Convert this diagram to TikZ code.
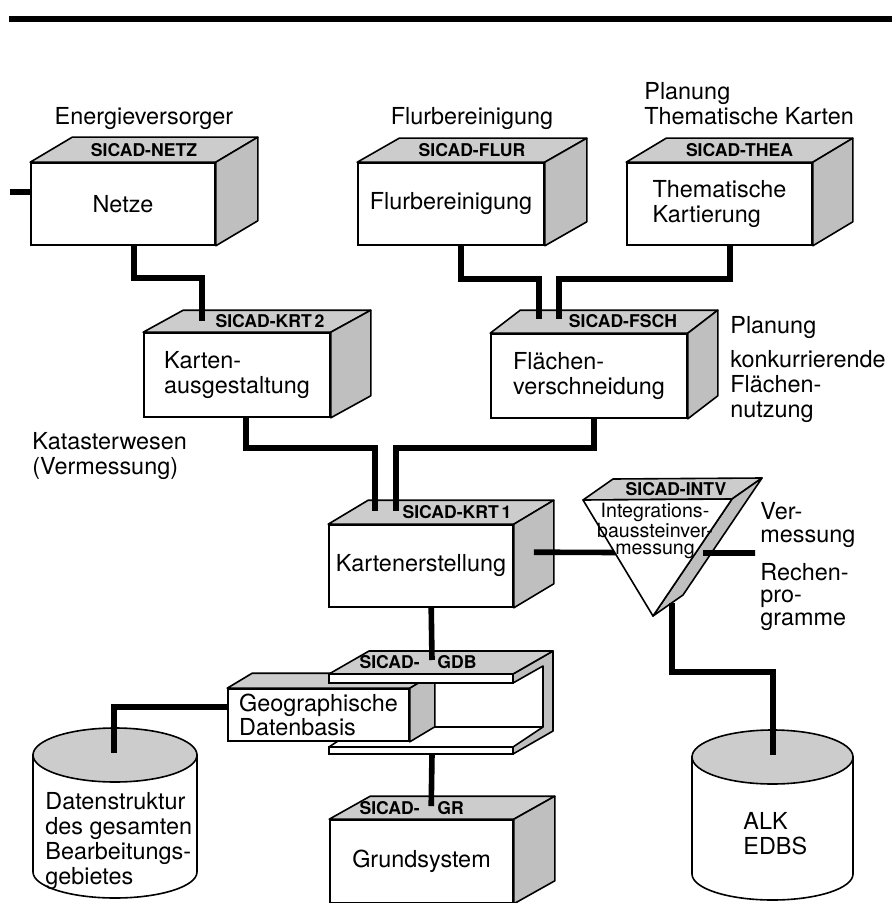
\documentclass[tikz,border=0pt]{standalone}
\usepackage{fontspec}
\setmainfont{TeX Gyre Heros}
\usetikzlibrary{calc,positioning}
\newcommand{\bodyfont}{\fontsize{11.7}{12.5}\selectfont}
\tikzset{%
	frontface/.style = {draw, fill=white, rectangle, inner sep=0pt, line width=0.8pt, align=left, font=\bodyfont},
	topface/.style   = {draw, fill=gray!40, line width=0.8pt, line join=round},
	sideface/.style  = {draw, fill=gray!50, line width=0.8pt, line join=round},
	sicad/.style     = {inner sep=0pt, font=\fontsize{8.8}{9}\selectfont\bfseries}, % block label
	remark/.style    = {inner sep=0pt, align=left, font=\bodyfont}, % field of use
	wire/.style      = {line width=2.8pt, line join=miter},
}
% top and side of a block
\newcommand{\cubefaces}[3]{%
	\draw[topface] (#1.north west) -- ++(#2,#3) -- ($(#1.north east)+(#2,#3)$) -- (#1.north east) -- cycle;
	\draw[sideface] (#1.north east) -- ++(#2,#3) -- ($(#1.south east)+(#2,#3)$) -- (#1.south east) -- cycle;
}
% data store: centre x, top y, bottom y, x radius
\newcommand{\drawdrum}[4]{%
	\filldraw[fill=white, line width=0.8pt] (#1-#4,#2) -- (#1-#4,#3) arc (180:0:#4 and 26) -- (#1+#4,#2) -- cycle;
	\draw[topface] (#1,#2) ellipse (#4 and 27);
}

\begin{document}
\begin{tikzpicture}[x=0.5pt,y=-0.5pt]
	\useasboundingbox (0,0) rectangle (894,903);
	\clip (0,0) rectangle (894,903);
	\draw[line width=3.2pt] (9,19) -- (892,19);

	% upper row
	\node [frontface, minimum width=92pt, minimum height=41pt] (netz) at (123,204) {Netze};
	\cubefaces{netz}{42}{-25}
	\node [sicad] (netzlbl) at ($(netz.north)+(21,-12)$) {SICAD-NETZ};
	\node [frontface, minimum width=93pt, minimum height=41pt] (flur) at (451,204) {Flurbereinigung};
	\cubefaces{flur}{42}{-24}
	\node [sicad] (flurlbl) at ($(flur.north)+(21,-12)$) {SICAD-FLUR};
	\node [frontface, minimum width=92.5pt, minimum height=41pt] (thea) at (719.5,204) {Thematische\\Kartierung};
	\cubefaces{thea}{40}{-24}
	\node [sicad] (thealbl) at ($(thea.north)+(20,-12)$) {SICAD-THEA};

	\node [remark, anchor=base] (energie) at (144,125) {Energieversorger};
	\node [remark, anchor=base] (flurtxt) at (472,125) {Flurbereinigung};
	\node [remark, anchor=south west] (thetxt) at (644,125) {Planung\\Thematische Karten};

	% middle row
	\node [frontface, minimum width=93pt, minimum height=42pt] (krt2) at (237,375) {Karten-\\ausgestaltung};
	\cubefaces{krt2}{40}{-22}
	\node [sicad] (krt2lbl) at ($(krt2.north)+(33,-11)$) {SICAD-KRT\,2};
	\node [frontface, minimum width=98pt, minimum height=42pt] (fsch) at (589,376) {Flächen-\\verschneidung};
	\cubefaces{fsch}{30}{-23}
	\node [sicad] (fschlbl) at ($(fsch.north)+(34,-12)$) {SICAD-FSCH};
	\node [frontface, minimum width=92pt, minimum height=41pt] (krt1) at (421,566) {Kartenerstellung};
	\cubefaces{krt1}{40}{-24}
	\node [sicad] (krt1lbl) at ($(krt1.north)+(36,-12)$) {SICAD-KRT\,1};

	\node [remark, anchor=north west] (katatxt) at (32,432) {Katasterwesen\\(Vermessung)};
	\node [remark, anchor=north west] (plantxt) at (730,316) {Planung\\[4.5pt]konkurrierende\\Flächen-\\nutzung};

	\coordinate (netzfeed) at (10,192);
	\draw[wire] (netzfeed) -- (netzfeed -| netz.west);
	\draw[wire] ($(netz.south west)+(104,0)$) -- ++(0,32) -| ($(krt2.north west)+(59,-11)$);
	\draw[wire] ($(flur.south west)+(104,0)$) -- ++(0,33) -| ($(fsch.north west)+(49,-14)$);
	\draw[wire] ($(thea.south west)+(104,0)$) -- ++(0,33) -| ($(fsch.north west)+(69,-14)$);
	\draw[wire] ($(krt2.south west)+(103,0)$) -- ++(0,30) -| ($(krt1.north west)+(47,-13)$);
	\draw[wire] ($(fsch.south west)+(104,0)$) -- ++(0,29) -| ($(krt1.north west)+(68,-13)$);

	% integration block
	\coordinate (vport) at (755,553);
	\draw[wire] ($(krt1.north east)+(20,28)$) -- (vport);
	\coordinate (ta) at (583,500);
	\coordinate (tb) at (732,499);
	\coordinate (tc) at (653,616);
	\draw[topface] (ta) -- ++(30,-21) -- ($(tb)+(30,-21)$) -- (tb) -- cycle;
	\draw[sideface] (tb) -- ++(30,-21) -- ($(tc)+(30,-21)$) -- (tc) -- cycle;
	\filldraw[fill=white, line width=0.8pt, line join=round] (ta) -- (tb) -- (tc) -- cycle;
	\node [inner sep=0pt, align=center, font=\fontsize{9.8}{8.6}\selectfont] (intv) at (655,531) {Integrations-\\baussteinver-\\messung};
	\node [sicad] (intvlbl) at (676,489) {SICAD-INTV};
	\draw[wire] ($(vport)+(-52,0)$) -- (vport);
	\node [remark, anchor=north west, font=\fontsize{11.7}{11.5}\selectfont] (vermtxt) at (760,502) {Ver-\\messung};
	\node [remark, anchor=north west, font=\fontsize{11.7}{11.2}\selectfont] (rechtxt) at (760,563) {Rechen-\\pro-\\gramme};

	% geographic data base
	\coordinate (gdb) at (329,674);
	\begin{scope}[shift={(gdb)}]
		\fill[white] (0,9) -- (184,9) -- (214,-8) -- (214,53) -- (184,73) -- (0,73) -- cycle;
		\draw[line width=0.8pt] (0,73) -- (30,53) -- (214,53);
		\draw[sideface] (184,0) -- (224,-23) -- (224,57) -- (184,80) -- (184,73) -- (214,53) -- (214,-8) -- (184,9) -- cycle;
		\draw[line width=0.8pt, fill=white] (0,73) rectangle (184,80);
	\end{scope}
	\node [frontface, minimum width=90.5pt, minimum height=26pt, font=\fontsize{11.7}{11}\selectfont] (geo) at (318.5,715) {Geographische\\Datenbasis};
	\cubefaces{geo}{25}{-15}
	\begin{scope}[shift={(gdb)}]
		\draw[topface] (0,0) -- (40,-23) -- (224,-23) -- (184,0) -- cycle;
		\draw[line width=0.8pt, fill=white] (0,0) rectangle (184,9);
	\end{scope}
	\node [sicad, anchor=east] (gdblbl) at (420,662) {SICAD-};
	\node [sicad, anchor=west] (gdbname) at (437,662) {GDB};

	% basic system
	\node [frontface, minimum width=91.5pt, minimum height=41.5pt] (gr) at (421.5,861.5) {Grundsystem};
	\cubefaces{gr}{41}{-23}
	\node [sicad, anchor=east] (grlbl) at (420,808) {SICAD-};
	\node [sicad, anchor=west] (grname) at (437,808) {GR};

	\draw[wire] ($(krt1.south west)+(103,0)$) -- ($(gdb)+(103,-14)$);
	\draw[wire] ($(gdb)+(103,80)$) -- ($(gr.north west)+(102,-13)$);

	% data stores
	\drawdrum{115}{755}{872}{82}
	\drawdrum{772.5}{757}{874}{80.5}
	\coordinate (dstop) at (114,753);
	\coordinate (alktop) at (773,755);
	\node [remark, anchor=north west] (dstext) at (45,792) {Datenstruktur\\des gesamten\\Bearbeitungs-\\gebietes};
	\node [remark, anchor=north west] (alktext) at (743,812) {ALK\\EDBS};
	\draw[wire] ($(geo.west)+(0,-8)$) -| (dstop);
	\draw[wire] ($(tc)+(19,-13)$) -- ++(0,69) -| (alktop);
\end{tikzpicture}
\end{document}
